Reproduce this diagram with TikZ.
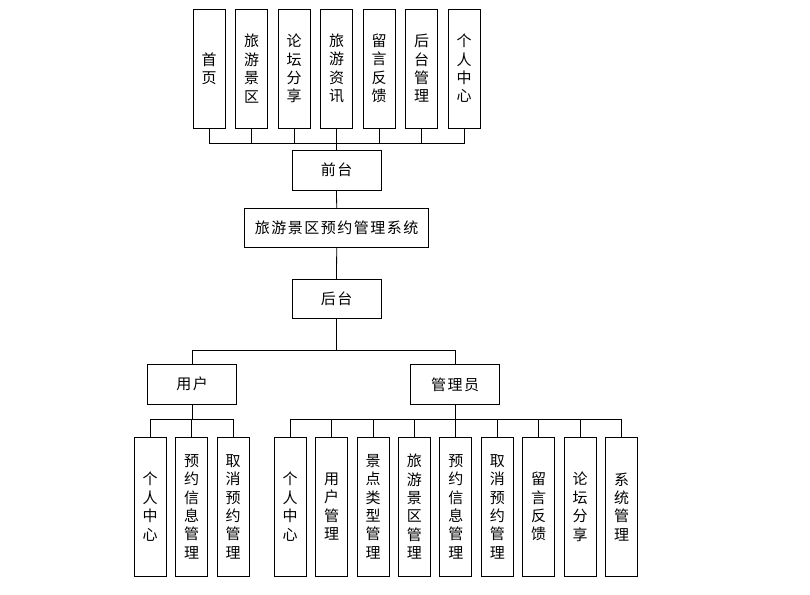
\documentclass[tikz,border=0pt]{standalone}
\usepackage{fontspec}
\setmainfont{Noto Sans CJK SC}
\newfontfamily\cjkh[LetterSpace=10]{Noto Sans CJK SC}
\begin{document}
\begin{tikzpicture}[x=1pt,y=-1pt,
  every node/.style={inner sep=0pt,outer sep=0pt},
  vbox/.style={draw=black,line width=0.8pt,minimum width=32pt,align=center,
    font=\fontsize{15}{18.4}\selectfont},
  hbox/.style={draw=black,line width=0.8pt,minimum width=89pt,minimum height=40pt,
    font=\cjkh\fontsize{15}{18}\selectfont},
  conn/.style={draw=black,line width=0.8pt}]
\useasboundingbox (0,0) rectangle (810,594);
% top row
\foreach \i/\x/\t in {1/209/{首\\页},2/251.5/{旅\\游\\景\\区},3/294/{论\\坛\\分\\享},
  4/336.5/{旅\\游\\资\\讯},5/379/{留\\言\\反\\馈},6/421.5/{后\\台\\管\\理},7/464/{个\\人\\中\\心}}
  \node[vbox,minimum height=119pt] (t\i) at (\x,68.5) {\t};
\node[hbox] (qian) at (336.5,170) {前台};
\node[hbox,minimum width=184pt,minimum height=39.5pt] (sys) at (336.7,228) {旅游景区预约管理系统};
\node[hbox,minimum height=39pt] (hou) at (336.5,298.7) {后台};
\node[hbox] (yh) at (192,384.3) {用户};
\node[hbox] (gly) at (455,384.3) {管理员};
% user children
\foreach \i/\x/\t in {1/150/{个\\人\\中\\心},2/191.7/{预\\约\\信\\息\\管\\理},3/233/{取\\消\\预\\约\\管\\理}}
  \node[vbox,minimum height=139pt] (u\i) at (\x,506.7) {\t};
% admin children
\foreach \i/\x/\t in {1/290/{个\\人\\中\\心},2/331.5/{用\\户\\管\\理},3/373/{景\\点\\类\\型\\管\\理},
  4/414.4/{旅\\游\\景\\区\\管\\理},5/455.8/{预\\约\\信\\息\\管\\理},6/497.3/{取\\消\\预\\约\\管\\理},
  7/538.7/{留\\言\\反\\馈},8/580.2/{论\\坛\\分\\享},9/621.6/{系\\统\\管\\理}}
  \node[vbox,minimum height=139pt] (a\i) at (\x,506.7) {\t};
% bus coordinates
\coordinate (tb) at (336.5,143);
\coordinate (mb) at (336.5,350);
\coordinate (ub) at (192,419.3);
\coordinate (ab) at (455,419.3);
\foreach \i in {1,...,7} \draw[conn] (t\i.south) |- (tb);
\draw[conn] (tb) -- (qian.north);
\draw[conn] (qian.south) -- (sys.north);
\draw[conn] (sys.south) -- (hou.north);
\draw[conn] (hou.south) -- (mb);
\draw[conn] (mb) -| (yh.north);
\draw[conn] (mb) -| (gly.north);
\draw[conn] (yh.south) -- (ub);
\foreach \i in {1,2,3} \draw[conn] (ub) -| (u\i.north);
\draw[conn] (gly.south) -- (ab);
\foreach \i in {1,...,9} \draw[conn] (ab) -| (a\i.north);
\end{tikzpicture}
\end{document}
